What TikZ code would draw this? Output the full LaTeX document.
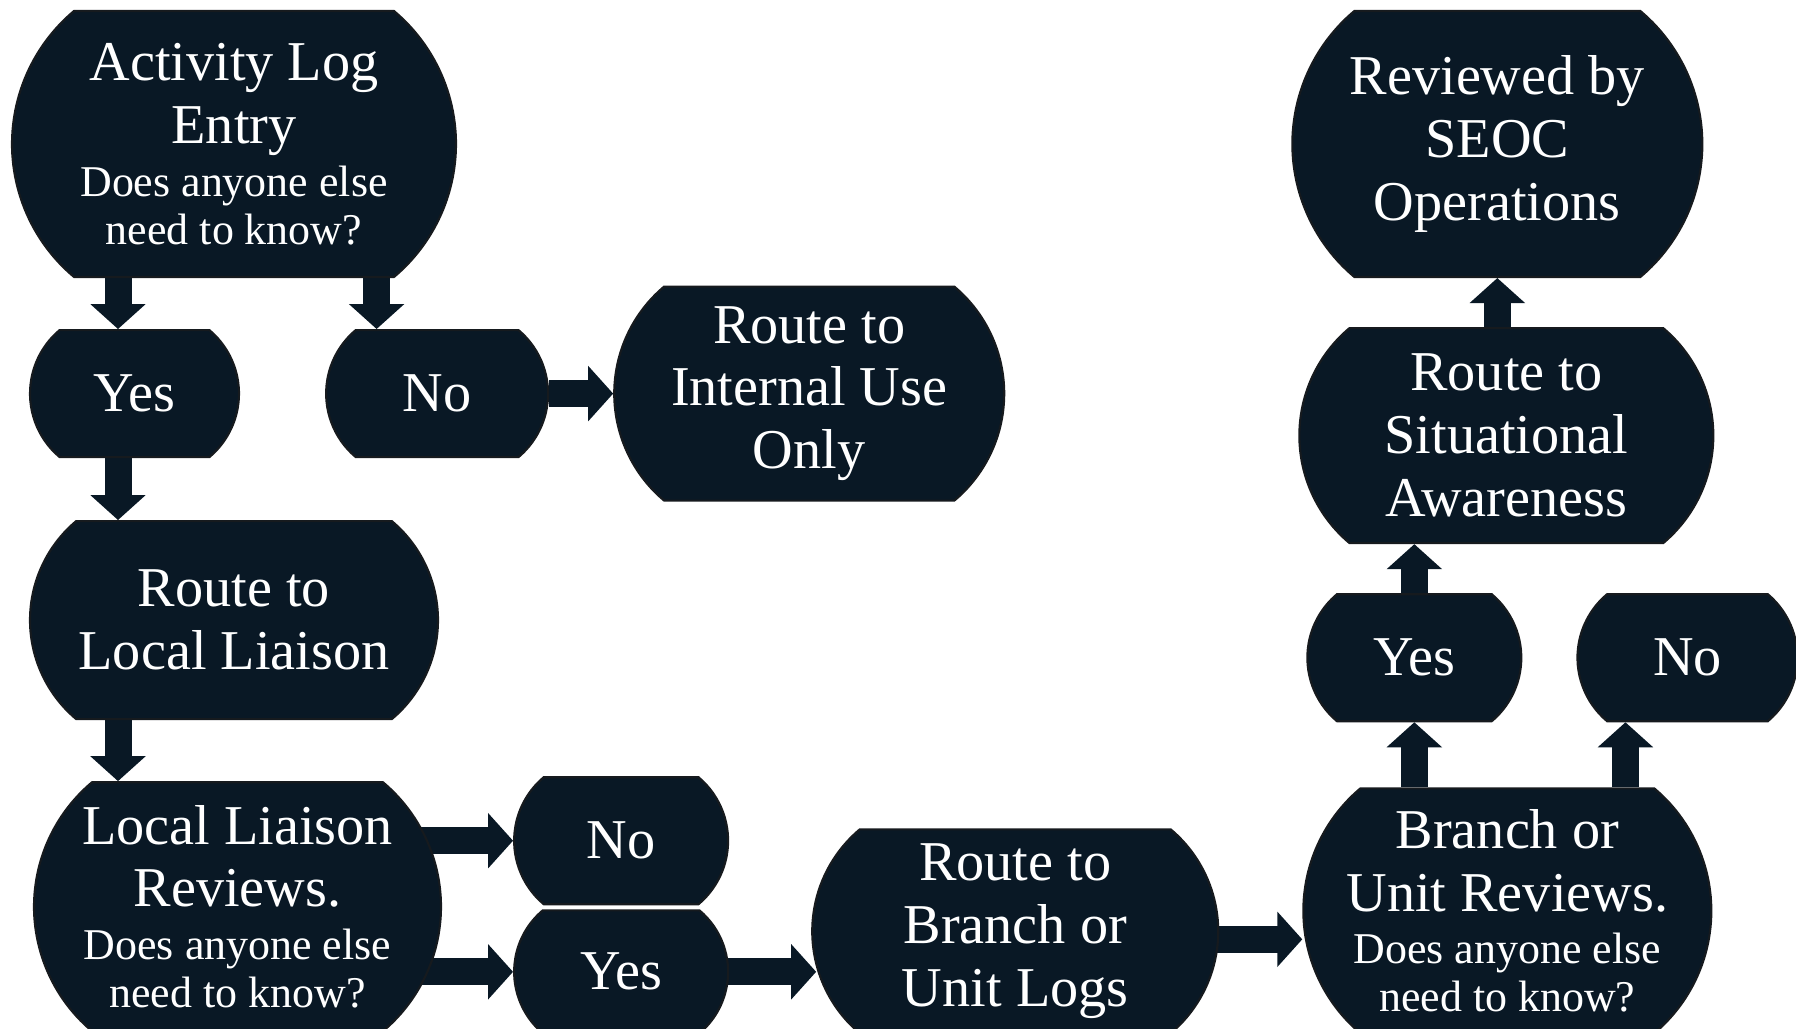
\documentclass[tikz,border=0pt]{standalone}
\usepackage{fontspec}
\setmainfont{Liberation Serif}
\usepackage{tikz}
\usetikzlibrary{shapes.misc,arrows.meta,positioning,backgrounds}

\definecolor{navy}{RGB}{9,24,37}
\definecolor{rim}{RGB}{22,26,30}
\newcommand{\bigtxt}{\fontsize{16}{17.9}\selectfont}
\newcommand{\smalltxt}{\fontsize{12.5}{13.7}\selectfont}
% long lines may run into the curved sides
\newcommand{\wideline}[1]{\makebox[2.7cm]{#1}}

\begin{document}
\begin{tikzpicture}[
    node distance=0.5cm,
    box/.style={rounded rectangle, rounded rectangle arc length=100, draw=rim, line width=0.6pt, fill=navy, text=white, align=center, inner sep=0pt, font=\bigtxt},
    choice/.style={box, minimum width=2.14cm, minimum height=1.27cm},
    arrow/.style={draw=navy, line width=0.27cm, -{Triangle[width=0.54cm, length=0.25cm]}}
]
    \useasboundingbox (0,0) rectangle (17.96,-10.29);

    \node[box, minimum width=4.44cm, minimum height=2.66cm] (entry) at (2.34,-1.44) {Activity Log\\Entry\\[-2.9pt]\smalltxt Does anyone else\\[-4.2pt]\smalltxt need to know?};
    \node[choice, minimum width=2.09cm, below=0.51cm of entry, xshift=-0.995cm] (yesone) {Yes};
    \node[choice, minimum width=2.22cm, right=0.85cm of yesone] (noone) {No};
    \node[box, minimum width=3.90cm, minimum height=2.14cm, right=0.64cm of noone] (internal) {Route to\\Internal Use\\Only};
    \node[box, minimum width=4.08cm, minimum height=1.98cm, below=2.42cm of entry] (liaison) {Route to\\Local Liaison};
    \node[box, minimum width=4.07cm, minimum height=2.49cm, below=0.61cm of liaison, xshift=0.035cm] (liaisonreview) {\wideline{Local Liaison}\\Reviews.\\[-2.9pt]\smalltxt Does anyone else\\[-4.2pt]\smalltxt need to know?};
    \node[choice, right=0.71cm of liaisonreview, yshift=0.66cm] (notwo) {No};
    \node[choice, minimum height=1.23cm, below=0.04cm of notwo] (yestwo) {Yes};
    \node[box, minimum width=4.06cm, minimum height=2.04cm, right=0.82cm of yestwo, yshift=0.405cm] (branchlogs) {Route to\\Branch or\\Unit Logs};
    \node[box, minimum width=4.08cm, minimum height=2.45cm, right=0.83cm of branchlogs, yshift=0.205cm] (branchreview) {Branch or\\\wideline{Unit Reviews.}\\[-2.9pt]\smalltxt Does anyone else\\[-4.2pt]\smalltxt need to know?};
    \node[choice, above=0.65cm of branchreview, xshift=-0.93cm] (yesthree) {Yes};
    \node[choice, minimum width=2.20cm, right=0.54cm of yesthree] (nothree) {No};
    \node[box, minimum width=4.14cm, minimum height=2.15cm, above=0.49cm of yesthree, xshift=0.92cm] (situational) {Route to\\Situational\\Awareness};
    \node[box, minimum width=4.10cm, minimum height=2.66cm, above=0.49cm of situational, xshift=-0.09cm] (seoc) {\wideline{Reviewed by}\\SEOC\\Operations};

    \begin{scope}[on background layer]
        \draw[arrow] ([xshift=-0.165cm]yesone.north |- entry.south) -- ([xshift=-0.165cm]yesone.north);
        \draw[arrow] ([xshift=-0.605cm]noone.north |- entry.south) -- ([xshift=-0.605cm]noone.north);
        \draw[arrow] ([xshift=-0.165cm]yesone.south) -- ([xshift=-0.165cm]yesone.south |- liaison.north);
        \draw[arrow] (noone.east) -- (internal.west);
        \draw[arrow] ([xshift=-0.165cm]yesone.south |- liaison.south) -- ([xshift=-0.165cm]yesone.south |- liaisonreview.north);
        \draw[arrow] (liaisonreview.center |- notwo.west) -- (notwo.west);
        \draw[arrow] (liaisonreview.center |- yestwo.west) -- (yestwo.west);
        \draw[arrow] (yestwo.center) -- ([xshift=0.05cm]yestwo.center -| branchlogs.west);
        \draw[arrow] ([yshift=-0.08cm]branchlogs.center) -- ([yshift=-0.08cm]branchlogs.center -| branchreview.west);
        \draw[arrow] (yesthree.south |- branchreview.north) -- (yesthree.south);
        \draw[arrow] ([xshift=-0.62cm]nothree.south |- branchreview.north) -- ([xshift=-0.62cm]nothree.south);
        \draw[arrow] (yesthree.north) -- (yesthree.north |- situational.south);
        \draw[arrow] (seoc.south |- situational.north) -- (seoc.south);
    \end{scope}
\end{tikzpicture}
\end{document}
